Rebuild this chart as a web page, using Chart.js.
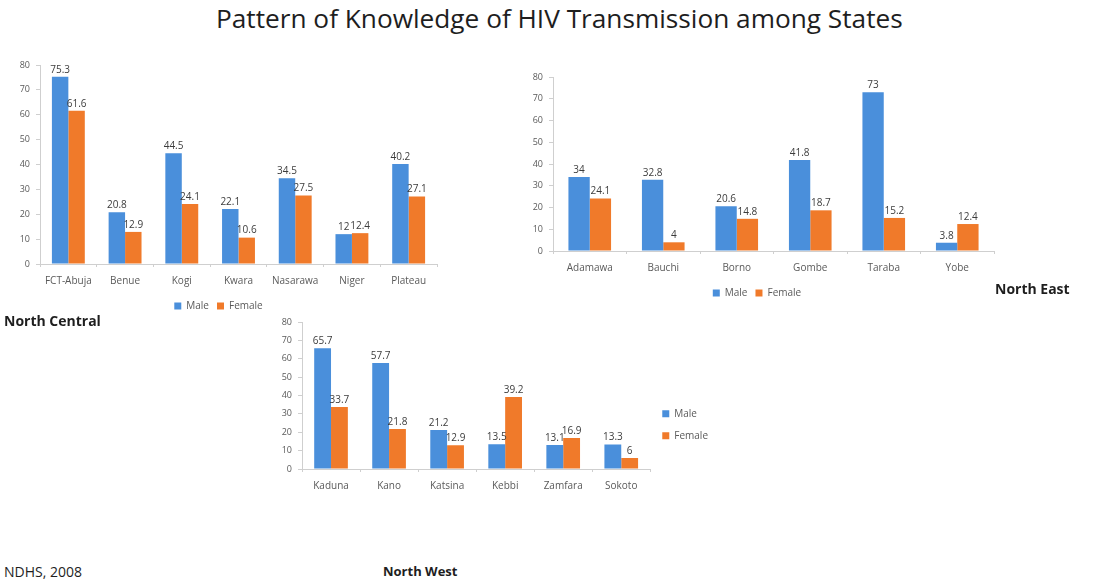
<!DOCTYPE html>
<html>
<head>
<meta charset="utf-8">
<script src="https://cdn.jsdelivr.net/npm/chart.js@4.4.0/dist/chart.umd.min.js"></script>
<style>
body { margin: 0; width: 1094px; height: 584px; background: #fff; position: relative; overflow: hidden; font-family: "Open Sans", sans-serif; }
.box { position: absolute; }
.txt { position: absolute; color: #1e1e1e; white-space: nowrap; line-height: 1; }
</style>
</head>
<body>
<div class="txt" id="title" style="left:216px; top:5px; font-size:23px;">Pattern of Knowledge of HIV Transmission among States</div>

<div class="box" style="left:0px; top:50px; width:445px; height:271px;"><canvas id="chartNC"></canvas></div>
<div class="box" style="left:520px; top:60px; width:490px; height:248px;"><canvas id="chartNE"></canvas></div>
<div class="box" style="left:260px; top:305px; width:480px; height:200px;"><canvas id="chartNW"></canvas></div>

<div class="txt" style="left:4px; top:314px; font-size:14px; font-weight:bold;">North Central</div>
<div class="txt" style="left:995px; top:282px; font-size:14px; font-weight:bold;">North East</div>
<div class="txt" style="left:383px; top:565px; font-size:13px; font-weight:bold;">North West</div>
<div class="txt" style="left:4px; top:565px; font-size:14px;">NDHS, 2008</div>

<script>
const ncStates = ["FCT-Abuja", "Benue", "Kogi", "Kwara", "Nasarawa", "Niger", "Plateau"];
const ncMale = [75.3, 20.8, 44.5, 22.1, 34.5, 12, 40.2];
const ncFemale = [61.6, 12.9, 24.1, 10.6, 27.5, 12.4, 27.1];

const neStates = ["Adamawa", "Bauchi", "Borno", "Gombe", "Taraba", "Yobe"];
const neMale = [34, 32.8, 20.6, 41.8, 73, 3.8];
const neFemale = [24.1, 4, 14.8, 18.7, 15.2, 12.4];

const nwStates = ["Kaduna", "Kano", "Katsina", "Kebbi", "Zamfara", "Sokoto"];
const nwMale = [65.7, 57.7, 21.2, 13.5, 13.1, 13.3];
const nwFemale = [33.7, 21.8, 12.9, 39.2, 16.9, 6];

const yTicks = [0, 10, 20, 30, 40, 50, 60, 70, 80];

const BLUE = "#4a8fdb";
const ORANGE = "#f07a2a";
const AXIS = "#cfcfcf";
const TICK = "#5a5a5a";

Chart.defaults.font.family = '"Open Sans", sans-serif';
Chart.defaults.animation = false;

const valueLabels = {
    id: "valueLabels",
    afterDatasetsDraw(chart) {
        const ctx = chart.ctx;
        ctx.save();
        ctx.font = '10px "Open Sans", sans-serif';
        ctx.fillStyle = "#3c3c3c";
        ctx.textAlign = "center";
        ctx.textBaseline = "bottom";
        chart.data.datasets.forEach((ds, i) => {
            chart.getDatasetMeta(i).data.forEach((bar, j) => {
                ctx.fillText(String(ds.data[j]), bar.x, bar.y - 2);
            });
        });
        ctx.restore();
    }
};

function montarGrafico(id, labels, male, female, cfg) {
    return new Chart(document.getElementById(id), {
        type: "bar",
        data: {
            labels: labels,
            datasets: [
                { label: "Male", data: male, backgroundColor: BLUE,
                  categoryPercentage: cfg.catPct, barPercentage: 1 },
                { label: "Female", data: female, backgroundColor: ORANGE,
                  categoryPercentage: cfg.catPct, barPercentage: 1 }
            ]
        },
        options: {
            responsive: true,
            maintainAspectRatio: false,
            layout: { padding: cfg.padding },
            plugins: {
                legend: {
                    position: cfg.legendPos,
                    align: "center",
                    title: cfg.legendTitle || { display: false },
                    labels: {
                        boxWidth: 7, boxHeight: 7, padding: cfg.legendPad,
                        font: { size: 10 }, color: TICK
                    }
                },
                tooltip: { enabled: false }
            },
            scales: {
                x: {
                    grid: { drawOnChartArea: false, drawTicks: true, tickLength: 3, color: AXIS },
                    border: { color: AXIS },
                    ticks: { font: { size: 10 }, color: TICK, maxRotation: 0, autoSkip: false, padding: 8 },
                    afterFit: s => { s.height = cfg.xHeight; }
                },
                y: {
                    min: 0, max: 80,
                    afterBuildTicks: s => { s.ticks = yTicks.map(v => ({ value: v })); },
                    grid: { drawOnChartArea: false, drawTicks: true, tickLength: 4, color: AXIS },
                    border: { color: AXIS },
                    ticks: { font: { size: 9 }, color: TICK, padding: 6 },
                    afterFit: s => { s.width = cfg.yWidth; }
                }
            }
        },
        plugins: [valueLabels]
    });
}

montarGrafico("chartNC", ncStates, ncMale, ncFemale, {
    catPct: 0.58, yWidth: 40, xHeight: 29, legendPos: "bottom", legendPad: 8,
    padding: { left: 0, right: 8, top: 15, bottom: 0 }
});

montarGrafico("chartNE", neStates, neMale, neFemale, {
    catPct: 0.58, yWidth: 33, xHeight: 29, legendPos: "bottom", legendPad: 8,
    padding: { left: 0, right: 16, top: 17, bottom: 0 }
});

montarGrafico("chartNW", nwStates, nwMale, nwFemale, {
    catPct: 0.58, yWidth: 42, xHeight: 25, legendPos: "right", legendPad: 12,
    legendTitle: { display: true, text: "", font: { size: 8 }, padding: { top: 24, bottom: 0 } },
    padding: { left: 0, right: 22, top: 17, bottom: 11 }
});

// ajusta o título à largura do original
const t = document.getElementById("title");
t.style.fontSize = (23 * 687 / t.getBoundingClientRect().width) + "px";
</script>
</body>
</html>
